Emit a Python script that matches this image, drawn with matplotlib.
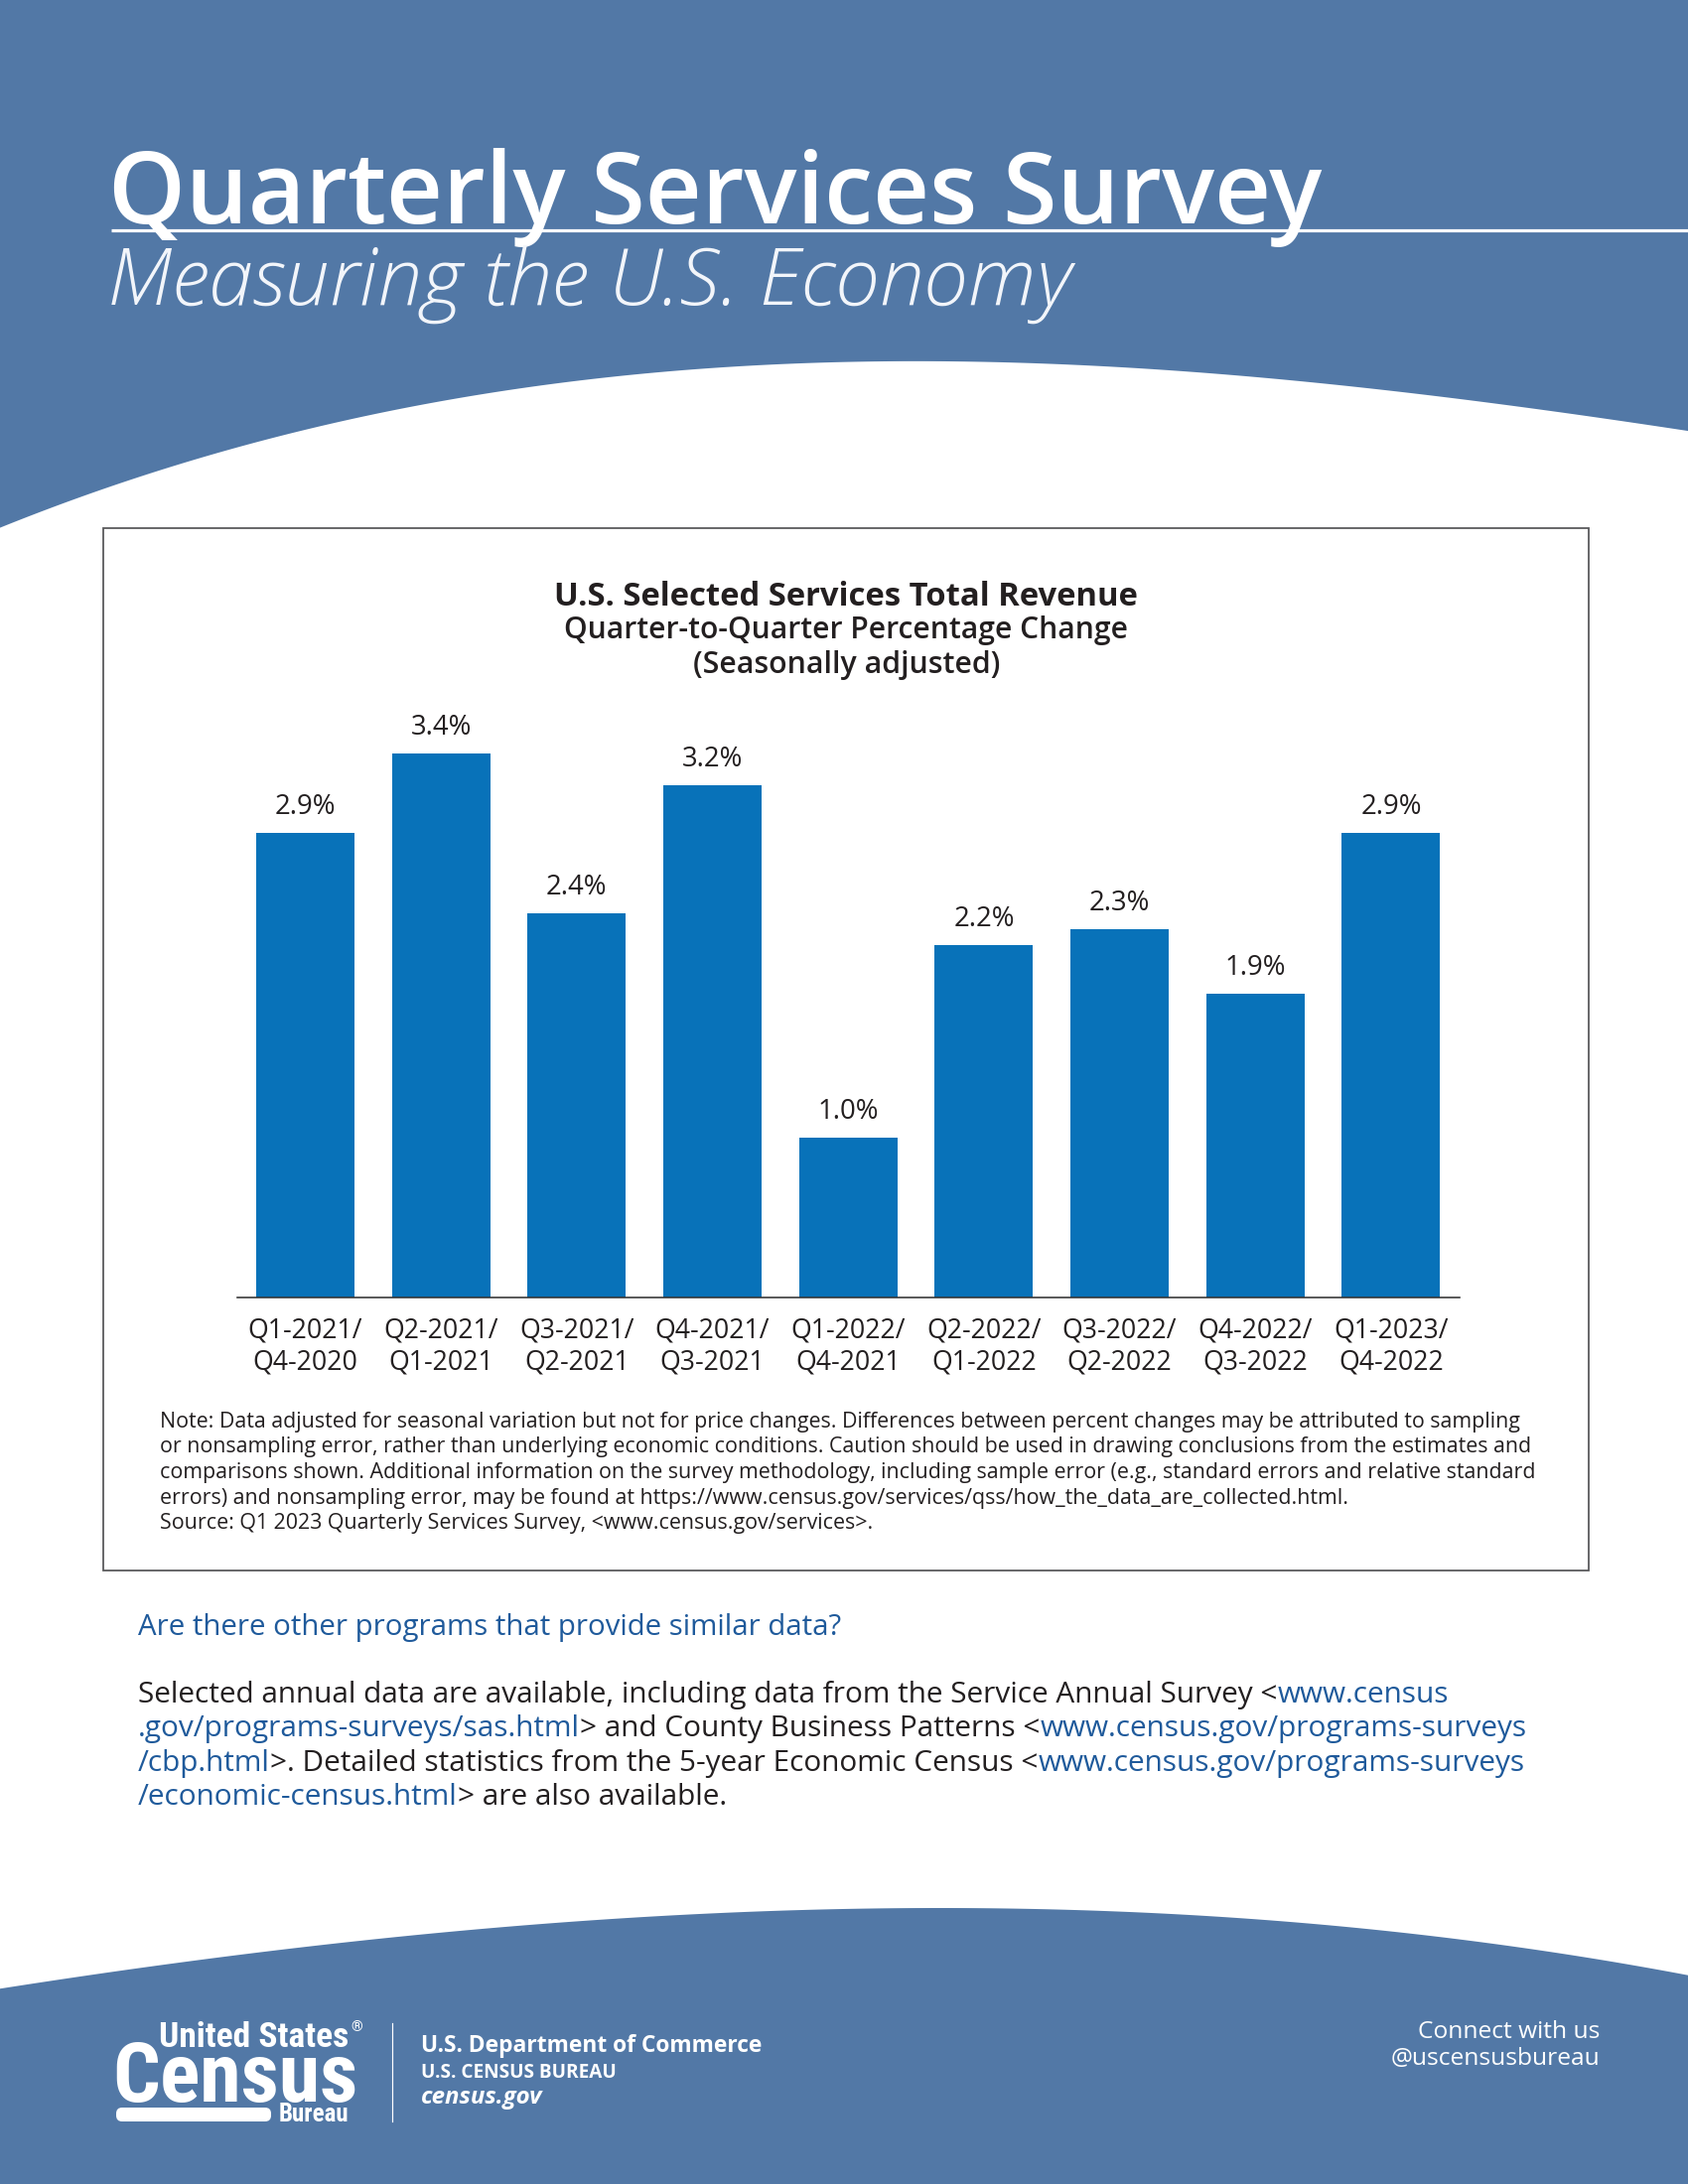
import numpy as np
import matplotlib
matplotlib.use("Agg")
import matplotlib.pyplot as plt
from matplotlib import font_manager as fm
from matplotlib.patches import Rectangle, Polygon, FancyBboxPatch

# ---------------- data ----------------
categories = ["Q1-2021/\nQ4-2020", "Q2-2021/\nQ1-2021", "Q3-2021/\nQ2-2021",
              "Q4-2021/\nQ3-2021", "Q1-2022/\nQ4-2021", "Q2-2022/\nQ1-2022",
              "Q3-2022/\nQ2-2022", "Q4-2022/\nQ3-2022", "Q1-2023/\nQ4-2022"]
values = [2.9, 3.4, 2.4, 3.2, 1.0, 2.2, 2.3, 1.9, 2.9]
value_labels = ["2.9%", "3.4%", "2.4%", "3.2%", "1.0%", "2.2%", "2.3%", "1.9%", "2.9%"]

title = "Quarterly Services Survey"
subtitle = "Measuring the U.S. Economy"
chart_title = "U.S. Selected Services Total Revenue"
chart_sub1 = "Quarter-to-Quarter Percentage Change"
chart_sub2 = "(Seasonally adjusted)"
note_lines = [
    "Note: Data adjusted for seasonal variation but not for price changes. Differences between percent changes may be attributed to sampling",
    "or nonsampling error, rather than underlying economic conditions. Caution should be used in drawing conclusions from the estimates and",
    "comparisons shown. Additional information on the survey methodology, including sample error (e.g., standard errors and relative standard",
    "errors) and nonsampling error, may be found at https://www.census.gov/services/qss/how_the_data_are_collected.html.",
    "Source: Q1 2023 Quarterly Services Survey, <www.census.gov/services>.",
]
question = "Are there other programs that provide similar data?"
para_lines = [
    [("Selected annual data are available, including data from the Service Annual Survey <", "k"), ("www.census", "b")],
    [(".gov/programs-surveys/sas.html", "b"), ("> and County Business Patterns <", "k"), ("www.census.gov/programs-surveys", "b")],
    [("/cbp.html", "b"), (">. Detailed statistics from the 5-year Economic Census <", "k"), ("www.census.gov/programs-surveys", "b")],
    [("/economic-census.html", "b"), ("> are also available.", "k")],
]

# ---------------- style ----------------
W, H = 1700, 2200
PT = 0.72  # px -> pt at dpi 100
BAND = "#5278A6"
BAR = "#0872B9"
TXT = "#231F20"
LINK = "#1F5A9B"
FONT = "Open Sans"

def find_narrow():
    names = {f.name for f in fm.fontManager.ttflist}
    for n in ["Liberation Sans Narrow", "DejaVu Sans Condensed", "Roboto Condensed"]:
        if n in names:
            return n
    return "Roboto"
NARROW = find_narrow()

plt.rcParams["font.family"] = [FONT, "DejaVu Sans"]

fig = plt.figure(figsize=(17, 22), dpi=100)
renderer = fig.canvas.get_renderer()
bg = fig.add_axes([0, 0, 1, 1])
bg.set_xlim(0, W)
bg.set_ylim(H, 0)
bg.axis("off")
bg.set_zorder(0)

def text_w(t):
    return t.get_window_extent(renderer=renderer).width

# header band with curved bottom edge
hx = np.array([0, 325, 651, 976, 1301, 1700])
hy = np.array([532, 427, 379, 362, 384, 434])
hc = np.polyfit(hx, hy, 3)
xx = np.linspace(0, W, 300)
top_curve = np.polyval(hc, xx)
pts = [(0, 0), (W, 0)] + list(zip(xx[::-1], top_curve[::-1]))
bg.add_patch(Polygon(pts, closed=True, facecolor=BAND, edgecolor="none"))

# footer band
fx = np.array([0, 325, 651, 900, 1301, 1627, 1700])
fy = np.array([2002, 1963, 1928, 1921, 1938, 1978, 1988])
fc = np.polyfit(fx, fy, 3)
bot_curve = np.polyval(fc, xx)
pts = list(zip(xx, bot_curve)) + [(W, H), (0, H)]
bg.add_patch(Polygon(pts, closed=True, facecolor=BAND, edgecolor="none"))

# header texts
bg.text(109, 225, title, color="white", fontsize=99 * PT, fontweight="semibold",
        va="baseline", ha="left")
bg.plot([112, W], [232, 232], color="white", lw=3.2 * PT, solid_capstyle="butt")
bg.text(108, 307, subtitle, color="#F2F5FA", fontsize=80.5 * PT, fontweight="light",
        style="italic", va="baseline", ha="left")

# chart frame
bg.add_patch(Rectangle((104, 532), 1496, 1050, facecolor="white",
                       edgecolor="#5A5A5C", lw=1.8 * PT, zorder=1))

bg.text(852, 610, chart_title, color=TXT, fontsize=32.8 * PT, fontweight="bold",
        ha="center", va="baseline", zorder=3)
bg.text(852, 643, chart_sub1, color=TXT, fontsize=30 * PT, fontweight="semibold",
        ha="center", va="baseline", zorder=3)
bg.text(853, 678, chart_sub2, color=TXT, fontsize=30.3 * PT, fontweight="semibold",
        ha="center", va="baseline", zorder=3)

# note text
for i, line in enumerate(note_lines):
    bg.text(161, 1438 + i * 25.5, line, color=TXT, fontsize=21.4 * PT,
            ha="left", va="baseline", zorder=3)

# question + paragraph
bg.text(139, 1647, question, color=LINK, fontsize=29.4 * PT, ha="left", va="baseline")
for i, pieces in enumerate(para_lines):
    x = 139
    y = 1715 + i * 34.4
    for s, c in pieces:
        t = bg.text(x, y, s, color=(TXT if c == "k" else LINK), fontsize=29.7 * PT,
                    ha="left", va="baseline")
        x += text_w(t)

# footer logo
t_us = bg.text(160, 2062, "United States", color="white", family=NARROW, fontweight="bold",
               fontsize=35.5 * PT, ha="left", va="baseline")
bg.text(160 + text_w(t_us) + 2, 2046, "®", color="white", family=NARROW, fontweight="bold",
        fontsize=15 * PT, ha="left", va="baseline")
bg.text(113, 2117, "Census", color="white", family=NARROW, fontweight="bold",
        fontsize=84 * PT, ha="left", va="baseline")
bg.add_patch(FancyBboxPatch((120, 2126), 150, 8, boxstyle="round,pad=3,rounding_size=6",
                            facecolor="white", edgecolor="none"))
bg.text(281, 2137, "Bureau", color="white", family=NARROW, fontweight="bold",
        fontsize=25 * PT, ha="left", va="baseline")
bg.plot([395, 395], [2038, 2137], color="white", lw=1.2 * PT)
bg.text(424, 2067, "U.S. Department of Commerce", color="white", fontweight="bold",
        fontsize=22.8 * PT, ha="left", va="baseline")
bg.text(424, 2093, "U.S. CENSUS BUREAU", color="white", fontweight="bold",
        fontsize=19 * PT, ha="left", va="baseline")
bg.text(424, 2119, "census.gov", color="white", fontweight="bold", style="italic",
        fontsize=24 * PT, ha="left", va="baseline")
bg.text(1611, 2053, "Connect with us", color="white", fontsize=24.5 * PT,
        ha="right", va="baseline")
bg.text(1611, 2080, "@uscensusbureau", color="white", fontsize=24.5 * PT,
        ha="right", va="baseline")

# ---------------- bar chart ----------------
base_y = 1307
unit = 161.3
ax_left, ax_right = 239, 1470
ax = fig.add_axes([ax_left / W, (H - base_y) / H, (ax_right - ax_left) / W, 4 * unit / H])
ax.set_zorder(2)
ax.patch.set_alpha(0)
x = np.arange(len(values))
ax.bar(x, values, width=0.724, color=BAR)
ax.set_xlim(-0.501, len(values) - 1 + 0.505)
ax.set_ylim(0, 4)
for s in ["top", "left", "right"]:
    ax.spines[s].set_visible(False)
ax.spines["bottom"].set_color("#333333")
ax.spines["bottom"].set_linewidth(1.6 * PT)
ax.set_yticks([])
ax.set_xticks(x)
ax.set_xticklabels(categories, fontsize=26.6 * PT, color=TXT, linespacing=1.15)
ax.tick_params(axis="x", length=0, pad=20 * PT)
for xi, v, lab in zip(x, values, value_labels):
    ax.annotate(lab, (xi, v), xytext=(0, 19 * PT), textcoords="offset points",
                ha="center", va="baseline", fontsize=27.5 * PT, color=TXT)

fig.savefig("out.png", dpi=100)
